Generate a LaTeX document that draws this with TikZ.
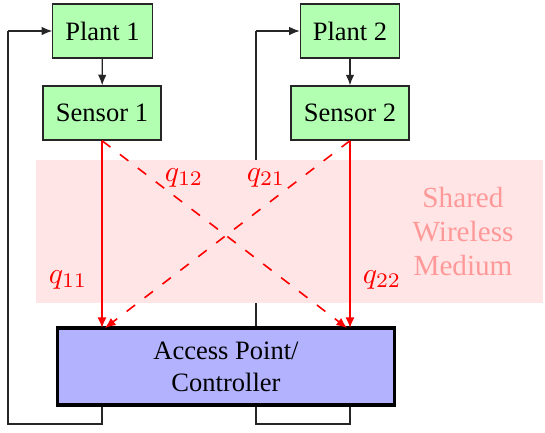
\documentclass[tikz,border=0pt]{standalone}
\usepackage{fontspec}
\setmainfont{Liberation Serif}
\usetikzlibrary{arrows.meta}
\begin{document}
\begin{tikzpicture}[x=0.377pt,y=-0.377pt,
  blockbox/.style={draw=black!85,fill=green!30,minimum height=20.4pt,inner sep=0pt,line width=0.45pt},
  plantbox/.style={blockbox,minimum width=37.4pt},
  sensorbox/.style={blockbox,minimum width=44.5pt},
  apbox/.style={draw=black,fill=blue!30,line width=1.2pt,minimum width=126.8pt,minimum height=29pt,inner sep=0pt,align=center},
  loopline/.style={black!85,line width=0.45pt},
  blackarrow/.style={black!85,line width=0.45pt,-{Latex[length=4pt,width=3.2pt]}},
  redarrow/.style={red,line width=0.6pt,-{Latex[length=4pt,width=3.4pt]}},
  reddash/.style={redarrow,dash pattern=on 4pt off 4.5pt},
  qlabel/.style={red,inner sep=0pt,scale=1.12}]
\useasboundingbox (0,0) rectangle (545,432);
% loop coordinates
\coordinate (a1) at (102,405);
\coordinate (b1) at (102,424);
\coordinate (c1) at (8,424);
\coordinate (d1) at (8,31);
\coordinate (a2) at (350,405);
\coordinate (b2) at (350,424);
\coordinate (c2) at (256,424);
\coordinate (d2) at (256,31);
\draw[loopline] (a1) -- (b1) -- (c1) -- (d1);
\draw[loopline] (a2) -- (b2) -- (c2) -- (d2);
% nodes
\node[plantbox] (p1) at (102.5,31) {Plant 1};
\node[plantbox] (p2) at (350,31) {Plant 2};
\node[sensorbox] (s1) at (102,113) {Sensor 1};
\node[sensorbox] (s2) at (350,113) {Sensor 2};
\node[apbox] (ap) at (226,366.5) {Access Point/\\Controller};
\draw[blackarrow] (d1) -- (p1.west);
\draw[blackarrow] (d2) -- (p2.west);
\draw[blackarrow] (p1) -- (s1);
\draw[blackarrow] (p2) -- (s2);
% shared medium
\node[fill=red!10,minimum width=191.4pt,minimum height=54pt,inner sep=0pt] (med) at (289.5,231.5) {};
\node[red!40,align=center,font=\fontsize{11}{12.8}\selectfont] (medtext) at (463,231.5) {Shared\\Wireless\\Medium};
% red links
\coordinate (e11) at (102,328);
\coordinate (e22) at (350,328);
\coordinate (e21) at (105,328);
\coordinate (e12) at (347,328);
\draw[redarrow] (s1.south) -- (e11);
\draw[redarrow] (s2.south) -- (e22);
\draw[reddash] (s1.south) -- (e12);
\draw[reddash] (s2.south) -- (e21);
\node[qlabel] (q11) at (68,280) {$q_{11}$};
\node[qlabel] (q12) at (184,178) {$q_{12}$};
\node[qlabel] (q21) at (266,178) {$q_{21}$};
\node[qlabel] (q22) at (382,280) {$q_{22}$};
\end{tikzpicture}
\end{document}
